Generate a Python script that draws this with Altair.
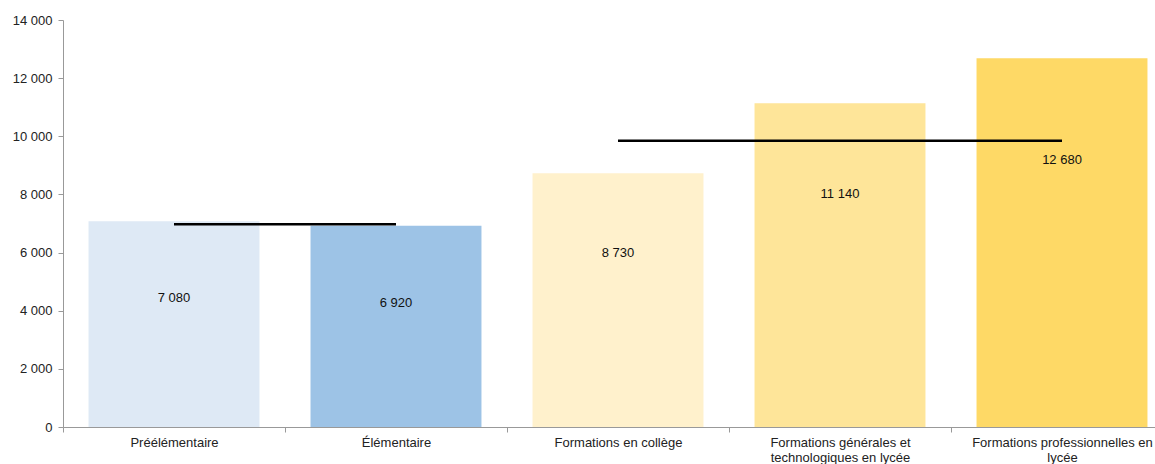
import altair as alt
import pandas as pd
import json

categories = ["Préélémentaire", "Élémentaire", "Formations en collège",
              "Formations générales et technologiques en lycée",
              "Formations professionnelles en lycée"]
label_lines = [["Préélémentaire"], ["Élémentaire"], ["Formations en collège"],
               ["Formations générales et", "technologiques en lycée"],
               ["Formations professionnelles en", "lycée"]]
values = [7080, 6920, 8730, 11140, 12680]
label_pos = [4440, 4270, 6000, 8000, 9170]
colors = ["#DEE9F5", "#9DC3E6", "#FFF1CC", "#FEE599", "#FED966"]

avg_start = ["Préélémentaire", "Formations en collège"]
avg_end = ["Élémentaire", "Formations professionnelles en lycée"]
avg_val = [6970, 9850]

df = pd.DataFrame({"cat": categories, "val": values, "pos": label_pos,
                   "txt": [f"{v:,}".replace(",", " ") for v in values]})
avg = pd.DataFrame({"s": avg_start, "e": avg_end, "v": avg_val})

mapping = " : ".join(
    f"datum.value == {json.dumps(c)} ? {json.dumps(l)}" for c, l in zip(categories, label_lines)
) + " : datum.value"

FONT = "Liberation Sans"
xsc = alt.Scale(domain=categories, paddingInner=0, paddingOuter=0, range=[0, 1110])
ysc = alt.Scale(domain=[0, 14000])

xenc = alt.X("cat:N", scale=xsc, sort=categories, title=None,
             axis=alt.Axis(labelAngle=0, tickBand="extent", labelExpr=mapping,
                           labelFont=FONT, labelFontSize=13, labelColor="#222",
                           domainColor="#999", tickColor="#999", tickSize=5,
                           labelPadding=4, labelLimit=300, labelLineHeight=15))

bars = alt.Chart(df).mark_bar(width=alt.RelativeBandSize(0.77)).encode(
    x=xenc,
    y=alt.Y("val:Q", scale=ysc, title=None,
            axis=alt.Axis(values=list(range(0, 14001, 2000)), grid=False,
                          labelExpr="replace(format(datum.value, ',d'), ',', ' ')",
                          labelFont=FONT, labelFontSize=13, labelColor="#222",
                          domainColor="#999", tickColor="#999", tickSize=5, labelPadding=6)),
    color=alt.Color("cat:N", scale=alt.Scale(domain=categories, range=colors), legend=None),
)

texts = alt.Chart(df).mark_text(font=FONT, fontSize=13, color="#111").encode(
    x=alt.X("cat:N", scale=xsc, sort=categories),
    y=alt.Y("pos:Q", scale=ysc),
    text="txt:N",
)

rules = alt.Chart(avg).mark_rule(color="#000", strokeWidth=2.5).encode(
    x=alt.X("s:N", scale=xsc, sort=categories),
    x2="e:N",
    y=alt.Y("v:Q", scale=ysc),
)

chart = alt.layer(bars, texts, rules).properties(
    width=1092, height=407,
    autosize=alt.AutoSizeParams(type="none"),
    padding={"left": 63, "top": 20, "right": 0, "bottom": 37},
).configure(background="white").configure_view(stroke=None)

chart.save("out.html", embed_options={"renderer": "svg", "actions": False})
